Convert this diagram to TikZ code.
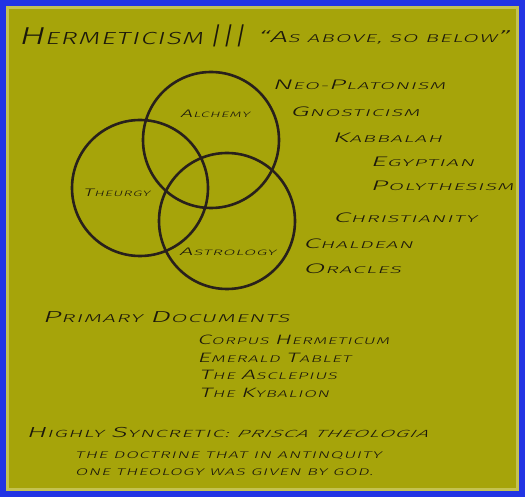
\documentclass[tikz,border=0pt]{standalone}
\usepackage{fontspec}
\usepackage{graphicx}
\newfontfamily\hfont[UprightFont={* Light},FakeSlant=0.2,FakeStretch=1.3,LetterSpace=6]{Fira Sans}
\newfontfamily\ifont[UprightFont={* Light},FakeSlant=0.45,FakeStretch=1.3,LetterSpace=6]{Fira Sans}
\newcommand\U[1]{\scalebox{1.4}{#1}\kern0.4pt}
\definecolor{bluebg}{RGB}{34,52,228}
\definecolor{olive}{RGB}{166,164,10}
\definecolor{edgeglow}{RGB}{196,194,80}
\definecolor{ink}{RGB}{28,24,12}
\definecolor{ringc}{RGB}{40,32,28}
% name, position, font size, horizontal scale, text
\newcommand\lbl[5]{%
  \node[txt,font={\hfont\fontsize{#3}{#3}\selectfont}] (#1) at (#2) {\scalebox{#4}[1]{#5}};}
\begin{document}
\begin{tikzpicture}[x=1pt,y=-1pt,
  txt/.style={anchor=base west,inner sep=0pt,text=ink},
  ring/.style={circle,draw=ringc,line width=2.6pt,minimum size=136pt,inner sep=0pt}]
\useasboundingbox (0,0) rectangle (525,497);
\fill[bluebg] (0,0) rectangle (525,497);
\fill[edgeglow] (6,6) rectangle (519,491);
\fill[olive] (9,9) rectangle (516,488);
% title
\node[txt,font={\hfont\fontsize{17.5}{17.5}\selectfont}] (title) at (18,45)
  {\scalebox{1.22}[1]{\U{H}ERMETICISM}\hspace{5pt}\U{|\kern-0.5pt|\kern-0.5pt|}};
\lbl{motto}{257,43}{11.4}{1.51}{\U{“A}S ABOVE, SO BELOW\U{”}}
% circles
\node[ring] (alchemy) at (211,140) {};
\node[ring] (theurgy) at (140,188) {};
\node[ring] (astrology) at (227,221) {};
\lbl{lalch}{180,118}{7.8}{1.52}{\U{A}LCHEMY}
\lbl{lthe}{83,197}{7.8}{1.46}{\U{T}HEURGY}
\lbl{last}{179,255}{7.8}{1.68}{\U{A}STROLOGY}
% right list
\lbl{neo}{272,90}{9.9}{1.64}{\U{N}EO-\U{P}LATONISM}
\lbl{gno}{290,117}{9.9}{1.66}{\U{G}NOSTICISM}
\lbl{kab}{332,143}{9.9}{1.67}{\U{K}ABBALAH}
\lbl{egy}{370,167}{9.9}{1.72}{\U{E}GYPTIAN}
\lbl{poly}{370,191}{9.9}{1.68}{\U{P}OLYTHESISM}
\lbl{chr}{333,223}{9.9}{1.68}{\U{C}HRISTIANITY}
\lbl{cha}{303,249}{9.9}{1.65}{\U{C}HALDEAN}
\lbl{ora}{303,273}{9.9}{1.71}{\U{O}RACLES}
% documents
\lbl{prim}{42,322}{11.4}{1.55}{\U{P}RIMARY \U{D}OCUMENTS}
\lbl{corp}{197,344}{9.7}{1.41}{\U{C}ORPUS \U{H}ERMETICUM}
\lbl{emer}{197,362}{9.7}{1.45}{\U{E}MERALD \U{T}ABLET}
\lbl{ascl}{199,379}{9.7}{1.45}{\U{T}HE \U{A}SCLEPIUS}
\lbl{kyb}{199,397}{9.7}{1.44}{\U{T}HE \U{K}YBALION}
% bottom
\lbl{synth}{26,437}{10.4}{1.58}{\U{H}IGHLY \U{S}YNCRETIC: {\ifont PRISCA THEOLOGIA}}
\lbl{doc1}{75,458}{9.7}{1.44}{THE DOCTRINE THAT IN ANTINQUITY}
\lbl{doc2}{75,475}{9.7}{1.41}{ONE THEOLOGY WAS GIVEN BY GOD.}
\end{tikzpicture}
\end{document}
